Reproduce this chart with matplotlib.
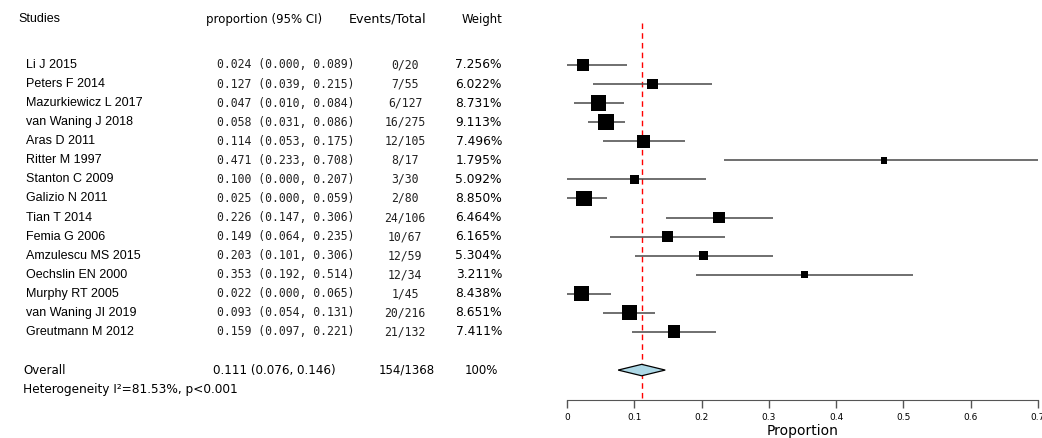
import matplotlib
matplotlib.use("Agg")
import matplotlib.pyplot as plt
import matplotlib.transforms as mtransforms
import numpy as np

studies = ["Li J 2015", "Peters F 2014", "Mazurkiewicz L 2017", "van Waning J 2018",
           "Aras D 2011", "Ritter M 1997", "Stanton C 2009", "Galizio N 2011",
           "Tian T 2014", "Femia G 2006", "Amzulescu MS 2015", "Oechslin EN 2000",
           "Murphy RT 2005", "van Waning JI 2019", "Greutmann M 2012"]
prop = [0.024, 0.127, 0.047, 0.058, 0.114, 0.471, 0.100, 0.025,
        0.226, 0.149, 0.203, 0.353, 0.022, 0.093, 0.159]
lower = [0.000, 0.039, 0.010, 0.031, 0.053, 0.233, 0.000, 0.000,
         0.147, 0.064, 0.101, 0.192, 0.000, 0.054, 0.097]
upper = [0.089, 0.215, 0.084, 0.086, 0.175, 0.708, 0.207, 0.059,
         0.306, 0.235, 0.306, 0.514, 0.065, 0.131, 0.221]
events = ["0/20", "7/55", "6/127", "16/275", "12/105", "8/17", "3/30", "2/80",
          "24/106", "10/67", "12/59", "12/34", "1/45", "20/216", "21/132"]
weights = [7.256, 6.022, 8.731, 9.113, 7.496, 1.795, 5.092, 8.850,
           6.464, 6.165, 5.304, 3.211, 8.438, 8.651, 7.411]

overall = 0.111
overall_lo = 0.076
overall_hi = 0.146
overall_events = "154/1368"
heterogeneity = "Heterogeneity I\u00b2=81.53%, p<0.001"

W, H = 1042, 438
fig = plt.figure(figsize=(W / 100, H / 100), dpi=100)
ax = fig.add_axes([567 / W, (H - 400) / H, (1038 - 567) / W, (400 - 19) / H])

rows = np.arange(len(studies))
row_overall = 16
row_header = -2.41
row_het = 17.04
ax.set_xlim(0, 0.7)
ax.set_ylim(17.57, -2.41)

# reference line
ax.vlines(overall, -2.2, 17.57, color="red", lw=1.0, linestyles=(0, (4, 3)), zorder=1)

# CIs and squares
ax.hlines(rows, lower, upper, color="#484848", lw=1.1, zorder=2)
w = np.array(weights)
side_px = 6.3 + 0.12 * w ** 2
ax.scatter(prop, rows, marker="s", s=(side_px * 0.72) ** 2, color="black",
           linewidths=0, zorder=3)

# overall diamond
ax.fill([overall_lo, overall, overall_hi, overall],
        [row_overall, row_overall - 0.3, row_overall, row_overall + 0.3],
        facecolor="#add8e6", edgecolor="black", lw=0.9, zorder=3)

for s in ["top", "right", "left"]:
    ax.spines[s].set_visible(False)
ax.spines["bottom"].set_color("#555555")
ax.set_yticks([])
ax.set_xticks(np.arange(0, 0.71, 0.1))
ax.set_xticklabels(["0", "0.1", "0.2", "0.3", "0.4", "0.5", "0.6", "0.7"])
ax.tick_params(axis="x", direction="out", length=6, width=1, color="#555555",
               labelsize=6.5, pad=3.5)
ax.set_xlabel("Proportion", fontsize=10, labelpad=1)

# text columns
tr = mtransforms.blended_transform_factory(fig.transFigure, ax.transData)
sans = "Liberation Sans"
mono = "DejaVu Sans Mono"
prp = "DejaVu Sans"

def put(xpix, y, s, ha="left", family=sans, size=9, color="black"):
    ax.text(xpix / W, y, s, transform=tr, ha=ha, va="center", fontsize=size,
            family=family, color=color, clip_on=False)

put(18, row_header, "Studies")
put(206, row_header, "proportion (95% CI)", family=prp, size=8.5)
put(388, row_header, "Events/Total", ha="center", family=prp, size=9.2)
put(462, row_header, "Weight", family=prp, size=8.4)

for i in range(len(studies)):
    put(26, rows[i], studies[i])
    put(217, rows[i], "%.3f (%.3f, %.3f)" % (prop[i], lower[i], upper[i]),
        family=mono, size=8.3, color="#222222")
    put(405, rows[i], events[i], ha="center", family=mono, size=8.3, color="#222222")
    put(502, rows[i], "%.3f%%" % weights[i], ha="right", family=prp, size=8.8)

put(23, row_overall, "Overall", family=prp, size=8.5)
put(213, row_overall, "%.3f (%.3f, %.3f)" % (overall, overall_lo, overall_hi),
    family=prp, size=8.6)
put(407, row_overall, overall_events, ha="center", family=prp, size=8.5)
put(498, row_overall, "100%", ha="right", family=prp, size=8.5)
put(23, row_het, heterogeneity, family=prp, size=8.7)

fig.savefig("out.png", dpi=100)
